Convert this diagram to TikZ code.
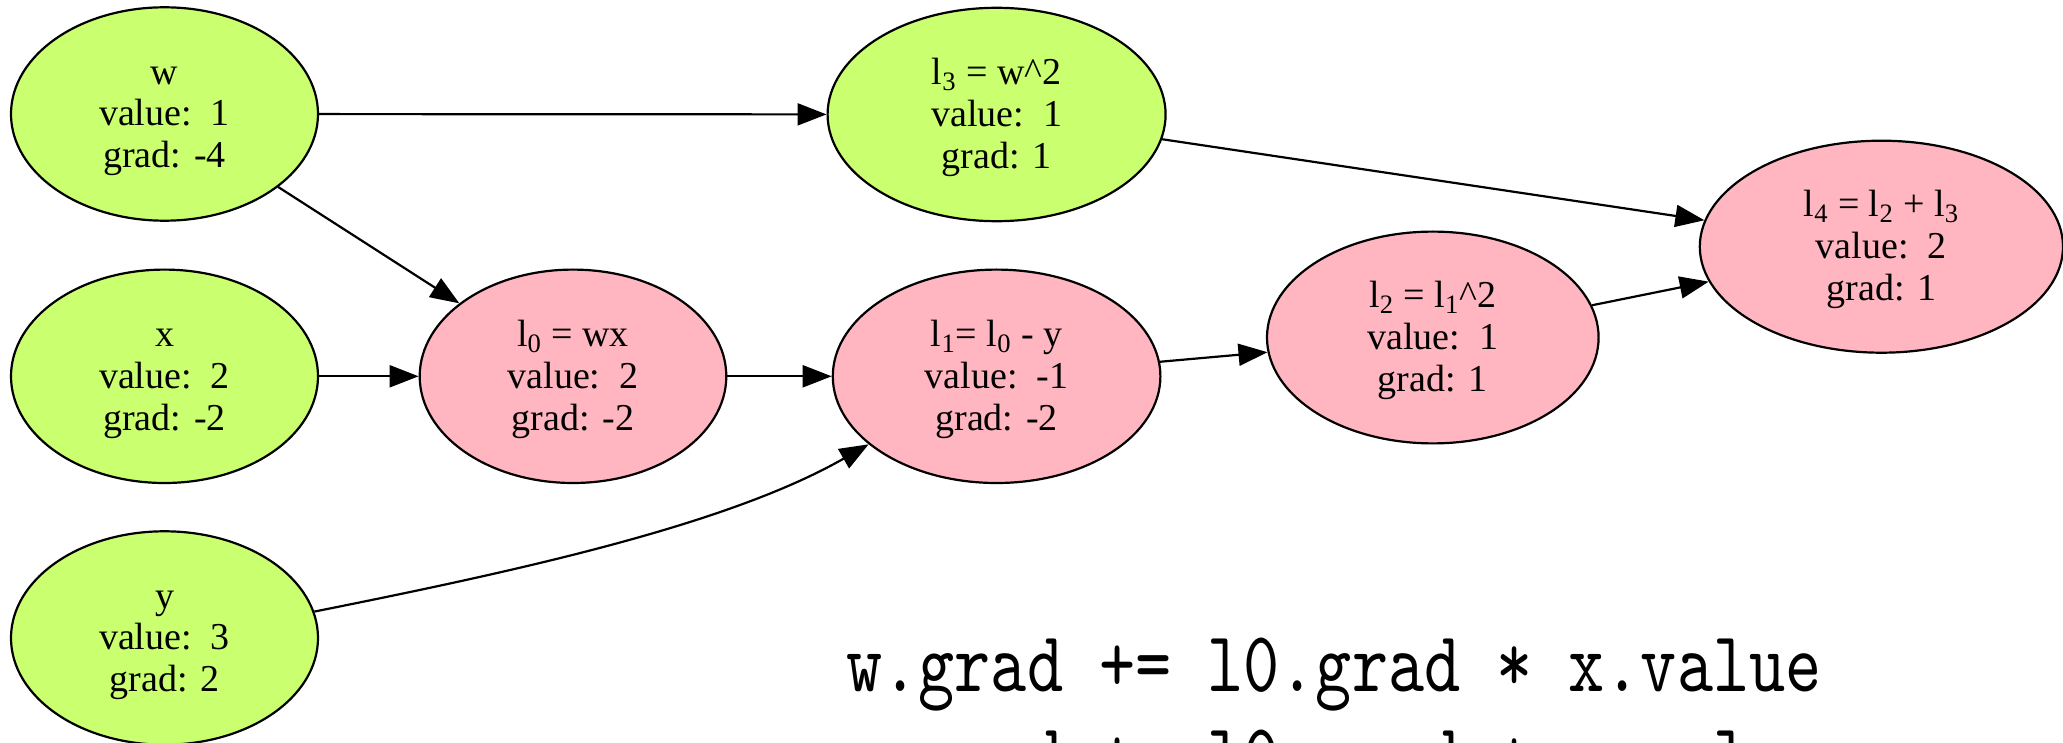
\documentclass[tikz,border=0pt]{standalone}
\usepackage{fontspec}
\setmainfont{Liberation Serif}
\newfontfamily\codefont[FakeStretch=0.8]{lmmono10-regular.otf}
\usetikzlibrary{shapes.geometric,arrows.meta}
\definecolor{leafgreen}{HTML}{CAFF70}
\definecolor{oppink}{HTML}{FFB6C1}
\begin{document}
\begin{tikzpicture}[x=0.5pt,y=-0.5pt,
  gnode/.style={ellipse,draw=black,line width=1.1pt,inner sep=0pt,align=center,
    font=\fontsize{19}{20.9}\selectfont,text height=58pt,text depth=4.3pt},
  leaf/.style={gnode,fill=leafgreen},
  op/.style={gnode,fill=oppink},
  conn/.style={line width=1.1pt,-{Triangle[length=14.5pt,width=11pt]}},
  code/.style={anchor=base west,inner sep=0pt,font=\codefont\fontsize{43}{52}\selectfont}
]
\useasboundingbox (0,0) rectangle (2063,743);
\node[leaf,minimum width=153.5pt,minimum height=106.7pt] (w) at (164.5,114) {w\\value:\ \ 1\\grad: -4};
\node[leaf,minimum width=153.5pt,minimum height=106.7pt] (x) at (164.5,376.3) {x\\value:\ \ 2\\grad: -2};
\node[leaf,minimum width=153.5pt,minimum height=106.7pt] (y) at (164.5,638) {y\\value:\ \ 3\\grad: 2};
\node[op,minimum width=153.3pt,minimum height=106.7pt] (l0) at (573,376.3) {l\textsubscript{0} = wx\\value:\ \ 2\\grad: -2};
\node[op,minimum width=163.8pt,minimum height=106.7pt] (l1) at (996.6,376.3) {l\textsubscript{1}= l\textsubscript{0} - y\\value:\ \ -1\\grad: -2};
\node[leaf,minimum width=169pt,minimum height=106.7pt] (l3) at (996.6,114.5) {l\textsubscript{3} = w\^{}2\\value:\ \ 1\\grad: 1};
\node[op,minimum width=165.8pt,minimum height=105.9pt] (l2) at (1432.8,337.5) {l\textsubscript{2} = l\textsubscript{1}\^{}2\\value:\ \ 1\\grad: 1};
\node[op,minimum width=181.6pt,minimum height=106pt] (l4) at (1881.4,246.7) {l\textsubscript{4} = l\textsubscript{2} + l\textsubscript{3}\\value:\ \ 2\\grad: 1};
\draw[conn] (w) -- (l3);
\draw[conn] (w) -- (l0);
\draw[conn] (x) -- (l0);
\draw[conn] (l0) -- (l1);
\draw[conn] (y.10) .. controls +(210,-42) and +(-140,80) .. (l1.208);
\draw[conn] (l1) -- (l2);
\draw[conn] (l3) -- (l4);
\draw[conn] (l2) -- (l4);
\node[code] (c1) at (846,691.7) {w.grad += l0.grad * x.value};
\node[code] (c2) at (846,783) {x.grad += l0.grad * w.value};
\end{tikzpicture}
\end{document}
